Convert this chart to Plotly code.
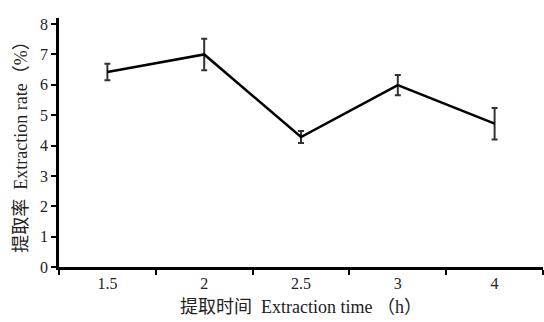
import plotly.graph_objects as go

categories = ["1.5", "2", "2.5", "3", "4"]
rates = [6.42, 7.0, 4.28, 5.99, 4.72]
errors = [0.27, 0.52, 0.2, 0.33, 0.52]
y_ticks = [0, 1, 2, 3, 4, 5, 6, 7, 8]

serif = "Liberation Serif, Times New Roman, Noto Sans CJK SC, serif"

fig = go.Figure()
fig.add_trace(go.Scatter(
    x=categories, y=rates, mode="lines",
    line=dict(color="black", width=2.5),
    error_y=dict(type="data", array=errors, visible=True,
                 color="#333333", thickness=2, width=3),
    showlegend=False,
))

fig.update_layout(
    width=544, height=322,
    margin=dict(l=59, r=1, t=18, b=55),
    paper_bgcolor="white", plot_bgcolor="white",
    font=dict(family=serif, size=16, color="#222222"),
)
fig.update_xaxes(
    type="category", tickson="boundaries", automargin=False,
    range=[-0.5, len(categories) - 0.5],
    showline=True, linecolor="black", linewidth=2.5,
    ticks="outside", ticklen=5, tickwidth=2, tickcolor="black",
    showgrid=False, zeroline=False,
    tickfont=dict(family=serif, size=16),
    title=dict(text="<span style='font-family:Noto Sans CJK SC;font-size:18px'>提取时间</span>  Extraction time （h）",
               font=dict(family=serif, size=18), standoff=7),
)
fig.update_yaxes(
    range=[0, 8.2], tickvals=y_ticks, automargin=False,
    showline=True, linecolor="black", linewidth=2.5,
    ticks="outside", ticklen=5, tickwidth=2, tickcolor="black",
    showgrid=False, zeroline=False,
    tickfont=dict(family=serif, size=16),
    title=dict(text="<span style='font-family:Noto Sans CJK SC;font-size:18px'>提取率</span>  Extraction rate（%）",
               font=dict(family=serif, size=18), standoff=8),
)

fig.write_html("out.html", config={"displayModeBar": False},
               post_script="document.body.style.margin='0';document.body.style.padding='0';")
